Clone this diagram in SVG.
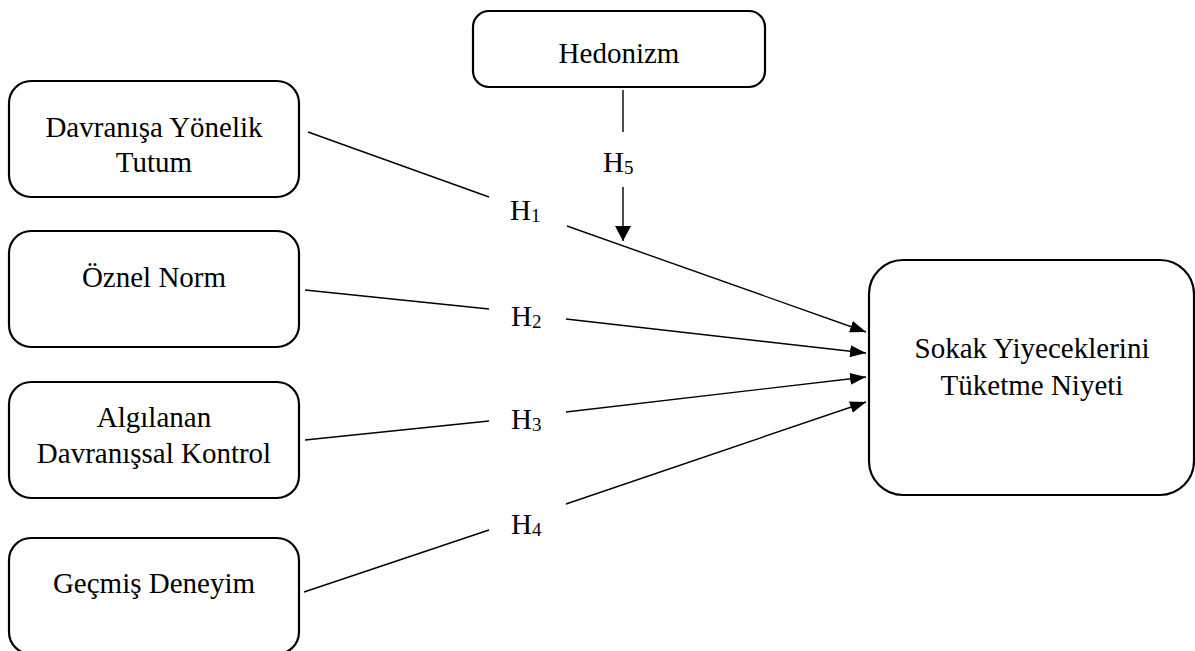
<svg xmlns="http://www.w3.org/2000/svg" width="1195" height="651" viewBox="0 0 1195 651">
<style>
.box{fill:#fff;stroke:#000;stroke-width:2.2}
.t{font-family:"Liberation Serif","Times New Roman",serif;font-size:29px;fill:#000;text-anchor:middle}
.h{font-family:"Liberation Serif","Times New Roman",serif;font-size:29px;fill:#000}
.sub{font-size:19px}
.ln{stroke:#000;stroke-width:1.4;fill:none}
</style>
<defs>
<marker id="arr" viewBox="0 0 16 12" refX="16" refY="6" markerWidth="16" markerHeight="12" markerUnits="userSpaceOnUse" orient="auto">
<path d="M0,0 L16,6 L0,12 Z" fill="#000"/>
</marker>
<marker id="arrV" viewBox="0 0 15 16" refX="15" refY="8" markerWidth="15" markerHeight="16" markerUnits="userSpaceOnUse" orient="auto">
<path d="M0,0 L15,8 L0,16 Z" fill="#000"/>
</marker>
</defs>
<rect width="1195" height="651" fill="#fff"/>
<g id="connectors">
<line class="ln" x1="308" y1="132" x2="489" y2="197"/>
<line class="ln" x1="567" y1="226" x2="866" y2="332" marker-end="url(#arr)"/>
<line class="ln" x1="305" y1="290" x2="489" y2="309"/>
<line class="ln" x1="566" y1="319" x2="866" y2="353" marker-end="url(#arr)"/>
<line class="ln" x1="305" y1="440" x2="489" y2="421"/>
<line class="ln" x1="566" y1="412" x2="866" y2="377" marker-end="url(#arr)"/>
<line class="ln" x1="304" y1="592" x2="489" y2="530"/>
<line class="ln" x1="566" y1="504" x2="866" y2="402" marker-end="url(#arr)"/>
<line class="ln" x1="623" y1="90" x2="623" y2="132"/>
<line class="ln" x1="623" y1="187" x2="623" y2="241" marker-end="url(#arrV)"/>
<text class="h" x="510" y="220">H<tspan class="sub" dy="2">1</tspan></text>
<text class="h" x="511" y="326">H<tspan class="sub" dy="2">2</tspan></text>
<text class="h" x="511" y="429">H<tspan class="sub" dy="2">3</tspan></text>
<text class="h" x="511" y="534">H<tspan class="sub" dy="2">4</tspan></text>
<text class="h" x="603" y="172">H<tspan class="sub" dy="2">5</tspan></text>
</g>
<g id="hedonizm">
<rect class="box" x="473" y="11" width="292" height="76" rx="16"/>
<text class="t" x="619" y="63">Hedonizm</text>
</g>
<g id="tutum">
<rect class="box" x="9" y="81" width="290" height="116" rx="22"/>
<text class="t" x="154" y="137">Davranışa Yönelik</text>
<text class="t" x="154" y="172">Tutum</text>
</g>
<g id="oznel">
<rect class="box" x="9" y="231" width="290" height="116" rx="22"/>
<text class="t" x="154" y="287">Öznel Norm</text>
</g>
<g id="algilanan">
<rect class="box" x="9" y="382" width="290" height="116" rx="22"/>
<text class="t" x="154" y="427">Algılanan</text>
<text class="t" x="154" y="463">Davranışsal Kontrol</text>
</g>
<g id="gecmis">
<rect class="box" x="9" y="538" width="290" height="116" rx="22"/>
<text class="t" x="154" y="593">Geçmiş Deneyim</text>
</g>
<g id="niyet">
<rect class="box" x="869" y="260" width="325" height="235" rx="34"/>
<text class="t" x="1032" y="358">Sokak Yiyeceklerini</text>
<text class="t" x="1032" y="395">Tüketme Niyeti</text>
</g>
</svg>
